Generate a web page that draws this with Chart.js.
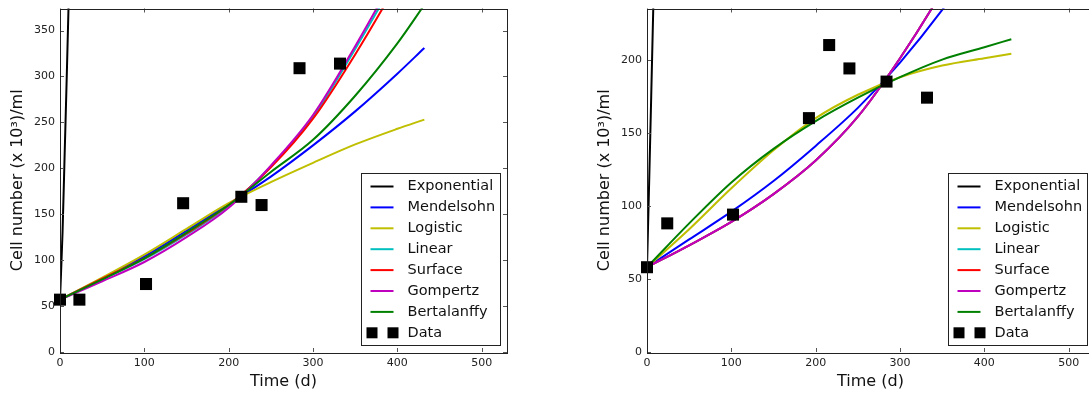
<!DOCTYPE html>
<html>
<head>
<meta charset="utf-8">
<script src="https://cdn.jsdelivr.net/npm/chart.js@4.4.1/dist/chart.umd.min.js"></script>
<style>
  html, body { margin: 0; padding: 0; background: #fff; overflow: hidden; }
  #wrap { position: relative; width: 1089px; height: 396px; overflow: hidden; }
  canvas { position: absolute; top: 0; }
  #left { left: 0; }
  #right { left: 545px; }
</style>
</head>
<body>
<div id="wrap">
  <canvas id="left" width="545" height="396"></canvas>
  <canvas id="right" width="560" height="396"></canvas>
</div>
<script>
// Tiempos donde se leen las curvas de los modelos
const tModel = [0, 50, 100, 150, 200, 250, 300, 350, 400, 432];

// Panel izquierdo
const tExpLeft = [0, 3, 5.5, 8, 10.5];
const expLeft = [57, 130, 215, 300, 390];
const mendelsohnLeft = [57, 80, 104, 132, 161, 191, 225, 262, 303, 331];
const logisticLeft = [57, 81, 106, 134, 162, 185, 206, 226, 243, 253];
const linearLeft = [57, 79, 101, 128, 159, 202, 256, 330, 410, 465];
const surfaceLeft = [57, 80, 102, 129, 160, 201, 254, 324, 402, 455];
const gompertzLeft = [57, 77, 98, 125, 157, 203, 258, 333, 415, 470];
const bertalanffyLeft = [57, 79, 102, 130, 160, 196, 231, 279, 336, 378];
const dataTimeLeft = [0, 23, 102, 146, 215, 239, 284, 332];
const dataCellsLeft = [57, 57, 74, 162, 169, 160, 309, 314];

// Panel derecho
const tExpRight = [0, 2.5, 5, 7.5, 9];
const expRight = [58, 115, 175, 237, 275];
const mendelsohnRight = [58, 77, 96, 117, 141, 167, 198, 234, 275, 302];
const logisticRight = [58, 84, 112, 138, 160, 176, 188, 196, 201, 204];
const linearRight = [58, 73, 89, 108, 131, 161, 201, 247, 300, 335];
const surfaceRight = [58, 73, 89, 108, 131, 161, 201, 247, 300, 335];
const gompertzRight = [58, 73, 89, 108, 131, 161, 201, 247, 300, 335];
const bertalanffyRight = [58, 88, 116, 139, 158, 174, 188, 200, 208.5, 214];
const dataTimeRight = [0, 24, 102, 192, 216, 240, 284, 332];
const dataCellsRight = [58, 88, 94, 160, 210, 194, 185, 174];

// Eje
const xTicks = [0, 100, 200, 300, 400, 500];
const FONT = 'DejaVu Sans';

function pts(xs, ys) {
    return xs.map((x, i) => ({ x: x, y: ys[i] }));
}

function curve(label, color, xs, ys, order) {
    return {
        label: label,
        data: pts(xs, ys),
        showLine: true,
        borderColor: color,
        backgroundColor: color,
        borderWidth: 2,
        pointRadius: 0,
        cubicInterpolationMode: 'monotone',
        order: order
    };
}

// Marco y ticks hacia dentro (estilo matplotlib)
const framePlugin = {
    id: 'frame',
    afterDatasetsDraw(chart) {
        const { ctx, chartArea: a, scales } = chart;
        ctx.save();
        ctx.strokeStyle = '#555';
        ctx.lineWidth = 1;
        ctx.beginPath();
        scales.x.ticks.forEach(t => {
            const px = Math.round(scales.x.getPixelForValue(t.value)) + 0.5;
            ctx.moveTo(px, a.bottom); ctx.lineTo(px, a.bottom - 4);
            ctx.moveTo(px, a.top); ctx.lineTo(px, a.top + 4);
        });
        scales.y.ticks.forEach(t => {
            const py = Math.round(scales.y.getPixelForValue(t.value)) + 0.5;
            ctx.moveTo(a.left, py); ctx.lineTo(a.left + 4, py);
            ctx.moveTo(a.right, py); ctx.lineTo(a.right - 4, py);
        });
        ctx.stroke();
        ctx.strokeStyle = '#222';
        ctx.strokeRect(Math.round(a.left) + 0.5, Math.round(a.top) + 0.5,
            Math.round(a.right - a.left), Math.round(a.bottom - a.top));
        ctx.restore();
    }
};

// Leyenda dentro del area, abajo a la derecha
const legendPlugin = {
    id: 'boxLegend',
    afterDraw(chart) {
        const { ctx, chartArea: a } = chart;
        const w = 139, h = 172, rowH = 20.9;
        const bx = Math.round(a.right - 7 - w) + 0.5;
        const by = Math.round(a.bottom - 7 - h) + 0.5;
        ctx.save();
        ctx.fillStyle = '#fff';
        ctx.fillRect(bx, by, w, h);
        ctx.strokeStyle = '#222';
        ctx.lineWidth = 1;
        ctx.strokeRect(bx, by, w, h);
        ctx.font = '14.5px "' + FONT + '"';
        ctx.textBaseline = 'middle';
        chart.data.datasets.forEach((ds, i) => {
            const cy = by + 13 + i * rowH;
            if (ds.showLine) {
                ctx.strokeStyle = ds.borderColor;
                ctx.lineWidth = 2;
                ctx.beginPath();
                ctx.moveTo(bx + 9, cy);
                ctx.lineTo(bx + 32, cy);
                ctx.stroke();
            } else {
                ctx.fillStyle = '#000';
                ctx.fillRect(bx + 5, cy - 5.5, 11, 11);
                ctx.fillRect(bx + 26, cy - 5.5, 11, 11);
            }
            ctx.fillStyle = '#111';
            ctx.fillText(ds.label, bx + 46, cy);
        });
        ctx.restore();
    }
};

function makeChart(id, opt) {
    const datasets = [
        curve('Exponential', '#000000', opt.tExp, opt.exp, 7),
        curve('Mendelsohn', '#0000ff', tModel, opt.mendelsohn, 6),
        curve('Logistic', '#bfbf00', tModel, opt.logistic, 5),
        curve('Linear', '#00bfbf', tModel, opt.linear, 4),
        curve('Surface', '#ff0000', tModel, opt.surface, 3),
        curve('Gompertz', '#bf00bf', tModel, opt.gompertz, 2),
        curve('Bertalanffy', '#008000', tModel, opt.bertalanffy, 1),
        {
            label: 'Data',
            data: pts(opt.dataT, opt.dataY),
            showLine: false,
            pointStyle: 'rect',
            pointRadius: 8.5,
            pointHoverRadius: 8.5,
            backgroundColor: '#000',
            borderColor: '#000',
            borderWidth: 0,
            clip: false,
            order: 0
        }
    ];

    return new Chart(document.getElementById(id), {
        type: 'scatter',
        data: { datasets: datasets },
        options: {
            responsive: false,
            animation: false,
            devicePixelRatio: 1,
            layout: { padding: { left: 4, right: opt.padRight, top: 6, bottom: 0 } },
            plugins: {
                legend: { display: false },
                tooltip: { enabled: false }
            },
            scales: {
                x: {
                    type: 'linear',
                    min: 0,
                    max: 530,
                    grid: { display: false, drawTicks: false },
                    border: { display: false },
                    afterBuildTicks: s => { s.ticks = xTicks.map(v => ({ value: v })); },
                    afterFit: s => {
                        s.height = 44;
                        s.paddingLeft = 0; s.paddingRight = 0;
                    },
                    ticks: {
                        padding: 5,
                        color: '#222',
                        font: { family: FONT, size: 11 }
                    },
                    title: {
                        display: true,
                        text: 'Time (d)',
                        color: '#111',
                        padding: { top: 0, bottom: 5 },
                        font: { family: FONT, size: 16 }
                    }
                },
                y: {
                    type: 'linear',
                    min: 0,
                    max: opt.yMax,
                    grid: { display: false, drawTicks: false },
                    border: { display: false },
                    afterBuildTicks: s => { s.ticks = opt.yTicks.map(v => ({ value: v })); },
                    afterFit: s => {
                        s.width = opt.yWidth;
                        s.paddingTop = 0; s.paddingBottom = 0;
                    },
                    ticks: {
                        padding: 5,
                        color: '#222',
                        font: { family: FONT, size: 11 }
                    },
                    title: {
                        display: true,
                        text: 'Cell number (x 10³)/ml',
                        color: '#111',
                        padding: { top: opt.titlePad, bottom: 0 },
                        font: { family: FONT, size: 16 }
                    }
                }
            }
        },
        plugins: [framePlugin, legendPlugin]
    });
}

window.onload = function() {
    makeChart('left', {
        tExp: tExpLeft, exp: expLeft,
        mendelsohn: mendelsohnLeft, logistic: logisticLeft, linear: linearLeft,
        surface: surfaceLeft, gompertz: gompertzLeft, bertalanffy: bertalanffyLeft,
        dataT: dataTimeLeft, dataY: dataCellsLeft,
        yMax: 374, yTicks: [0, 50, 100, 150, 200, 250, 300, 350],
        yWidth: 56, padRight: 38, titlePad: 4
    });

    makeChart('right', {
        tExp: tExpRight, exp: expRight,
        mendelsohn: mendelsohnRight, logistic: logisticRight, linear: linearRight,
        surface: surfaceRight, gompertz: gompertzRight, bertalanffy: bertalanffyRight,
        dataT: dataTimeRight, dataY: dataCellsRight,
        yMax: 235, yTicks: [0, 50, 100, 150, 200],
        yWidth: 98, padRight: 11, titlePad: 46
    });
};
</script>
</body>
</html>
